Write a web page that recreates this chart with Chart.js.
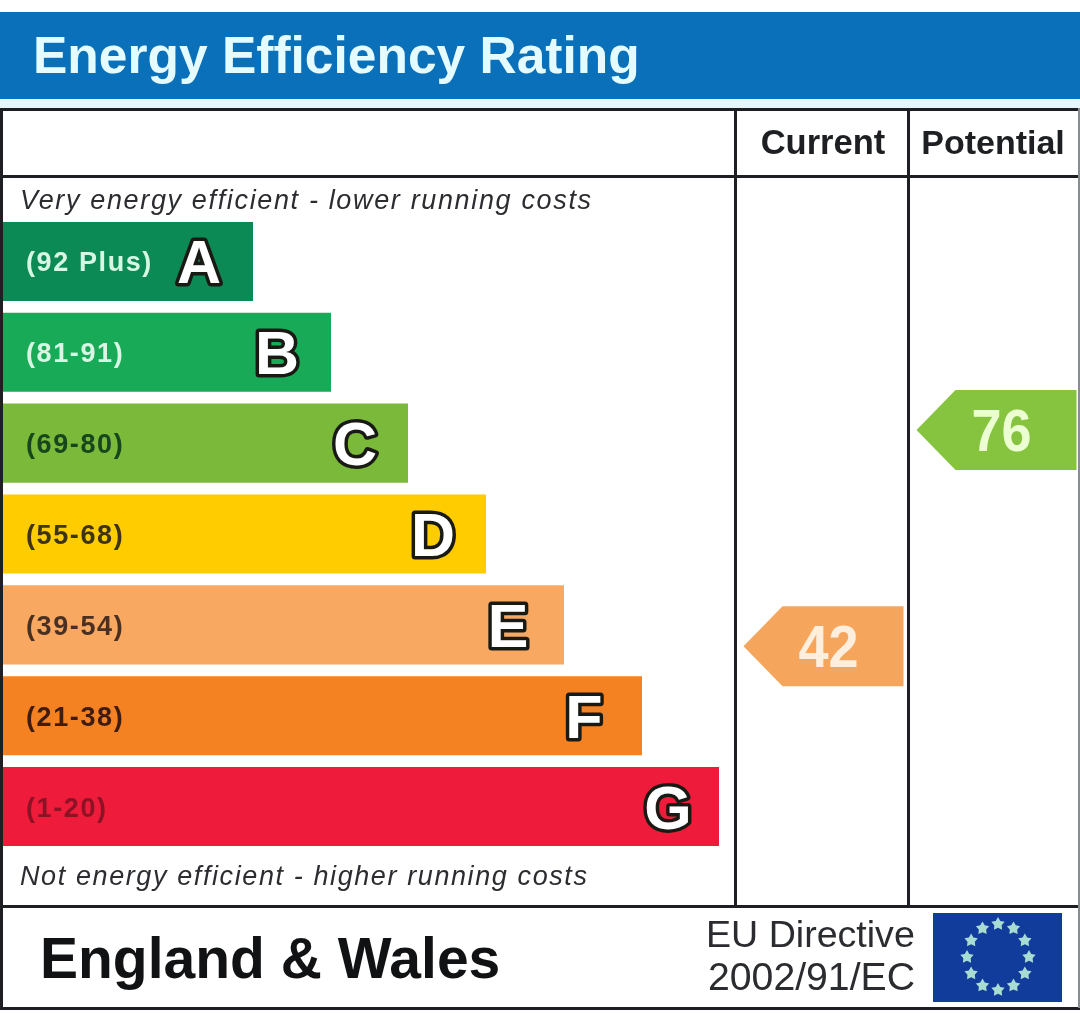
<!DOCTYPE html>
<html lang="en">
<head>
<meta charset="utf-8">
<title>Energy Efficiency Rating</title>
<style>
  html, body { margin: 0; padding: 0; background: #fff; }
  canvas { display: block; }
</style>
</head>
<body>
<canvas id="epcChart" width="1080" height="1030"></canvas>
<script src="https://cdn.jsdelivr.net/npm/chart.js@4/dist/chart.umd.min.js"></script>
<script>
// ── Data ─────────────────────────────────────────────────────
const bandLetters = ['A', 'B', 'C', 'D', 'E', 'F', 'G'];
const bandRanges  = ['(92 Plus)', '(81-91)', '(69-80)', '(55-68)', '(39-54)', '(21-38)', '(1-20)'];
const bandLengths = [250, 328, 405, 483, 561, 639, 716];
const bandColors  = ['#0c8a55', '#19aa58', '#7bb93b', '#ffcc00', '#f8a860', '#f58222', '#ee1c3a'];
const rangeColors = ['#d8f6e4', '#d8f6e4', '#17451c', '#3d3412', '#4a3022', '#3f1c10', '#8c1226'];
const letterInset = [54, 54, 53, 53, 56, 58, 51];
const currentScore   = [42];
const potentialScore = [76];

const FONT = '"Liberation Sans", Arial, sans-serif';
const INK  = '#1d1f22';

// ── Drawing helpers ──────────────────────────────────────────
function put(ctx, text, x, y, font, color, align = 'left', spacing = '0px') {
  ctx.font = font;
  ctx.fillStyle = color;
  ctx.textAlign = align;
  ctx.textBaseline = 'alphabetic';
  ctx.letterSpacing = spacing;
  ctx.fillText(text, x, y);
  ctx.letterSpacing = '0px';
}

function star(ctx, cx, cy, r) {
  ctx.beginPath();
  for (let i = 0; i < 10; i++) {
    const a = -Math.PI / 2 + i * Math.PI / 5;
    const d = i % 2 ? r * 0.55 : r;
    ctx.lineTo(cx + d * Math.cos(a), cy + d * Math.sin(a));
  }
  ctx.closePath();
  ctx.fill();
}

// ── Label frame: header, table rules, footer ─────────────────
const labelFrame = {
  id: 'labelFrame',
  beforeDatasetsDraw(chart) {
    const { ctx } = chart;
    ctx.save();
    ctx.fillStyle = '#e6f8fd';
    ctx.fillRect(0, 99, 1080, 9);
    ctx.fillStyle = '#0a70b9';
    ctx.fillRect(0, 12, 1080, 87);
    put(ctx, 'Energy Efficiency Rating', 33, 73, `bold 51.5px ${FONT}`, '#e4fbff');

    ctx.fillStyle = INK;
    ctx.fillRect(0, 108, 1080, 3);    // top rule
    ctx.fillRect(0, 175, 1080, 3);    // header rule
    ctx.fillRect(0, 905, 1080, 3);    // footer rule
    ctx.fillRect(0, 1007, 1080, 3);   // bottom rule
    ctx.fillRect(734, 108, 3, 798);   // Current column
    ctx.fillRect(907, 108, 3, 798);   // Potential column
    ctx.fillRect(0, 108, 3, 902);     // left edge
    ctx.fillStyle = '#8a8d90';
    ctx.fillRect(1078, 108, 2, 900);  // right edge

    put(ctx, 'Current', 823, 154, `bold 34.5px ${FONT}`, INK, 'center');
    put(ctx, 'Potential', 993, 154, `bold 34px ${FONT}`, INK, 'center');

    put(ctx, 'Very energy efficient - lower running costs', 20, 209, `italic 27px ${FONT}`, '#2b2d30', 'left', '1.65px');
    put(ctx, 'Not energy efficient - higher running costs', 20, 885, `italic 27px ${FONT}`, '#2b2d30', 'left', '1.6px');

    put(ctx, 'England & Wales', 40, 978, `bold 57px ${FONT}`, '#101214');
    put(ctx, 'EU Directive', 706, 947, `37.6px ${FONT}`, '#2a2c2f');
    put(ctx, '2002/91/EC', 708, 990, `39.2px ${FONT}`, '#2a2c2f');

    // EU flag
    ctx.fillStyle = '#123c9c';
    ctx.fillRect(933, 913, 129, 89);
    ctx.fillStyle = '#a8dcd2';
    for (let i = 0; i < 12; i++) {
      const a = i * Math.PI / 6;
      star(ctx, 998 + 31 * Math.sin(a), 957 - 33 * Math.cos(a), 7);
    }
    ctx.restore();
  },

  afterDatasetsDraw(chart) {
    const { ctx } = chart;
    const bars = chart.getDatasetMeta(0).data;
    ctx.save();

    // Range text and outlined letter inside each bar
    bars.forEach((bar, i) => {
      put(ctx, bandRanges[i], 26, bar.y + 10, `bold 27px ${FONT}`, rangeColors[i], 'left', '1.6px');

      const lx = bar.x - letterInset[i];
      ctx.font = `bold 61px ${FONT}`;
      ctx.textAlign = 'center';
      ctx.textBaseline = 'alphabetic';
      ctx.lineJoin = 'round';
      ctx.lineWidth = 7;
      ctx.strokeStyle = '#1a1a14';
      ctx.strokeText(bandLetters[i], lx, bar.y + 22);
      ctx.fillStyle = '#fff';
      ctx.fillText(bandLetters[i], lx, bar.y + 22);
    });

    // Score arrows, anchored on the scatter points
    [[1, currentScore, '#f6a65c', '#fdeedd'], [2, potentialScore, '#86c440', '#ecffd2']].forEach(([ds, scores, fill, text]) => {
      const p = chart.getDatasetMeta(ds).data[0];
      ctx.fillStyle = fill;
      ctx.beginPath();
      ctx.moveTo(p.x - 80, p.y);
      ctx.lineTo(p.x - 41, p.y - 40);
      ctx.lineTo(p.x + 80, p.y - 40);
      ctx.lineTo(p.x + 80, p.y + 40);
      ctx.lineTo(p.x - 41, p.y + 40);
      ctx.closePath();
      ctx.fill();

      ctx.save();
      ctx.translate(p.x + 5, p.y + 21);
      ctx.scale(0.9, 1);
      put(ctx, String(scores[0]), 0, 0, `bold 60px ${FONT}`, text, 'center');
      ctx.restore();
    });
    ctx.restore();
  }
};

// ── Chart ────────────────────────────────────────────────────
new Chart(document.getElementById('epcChart'), {
  type: 'bar',
  data: {
    labels: bandLetters,
    datasets: [
      {
        type: 'bar',
        label: 'Rating band',
        data: bandLengths,
        backgroundColor: bandColors,
        borderWidth: 0,
        grouped: false,
        barPercentage: 0.87,
        categoryPercentage: 1,
        xAxisID: 'x',
        yAxisID: 'y'
      },
      {
        type: 'scatter',
        label: 'Current',
        data: currentScore.map(v => ({ x: 820.5, y: v })),
        pointRadius: 0,
        xAxisID: 'x',
        yAxisID: 'score'
      },
      {
        type: 'scatter',
        label: 'Potential',
        data: potentialScore.map(v => ({ x: 993.5, y: v })),
        pointRadius: 0,
        xAxisID: 'x',
        yAxisID: 'score'
      }
    ]
  },
  options: {
    indexAxis: 'y',
    responsive: false,
    animation: false,
    layout: { padding: { left: 3, right: 0, top: 216, bottom: 178 } },
    plugins: { legend: { display: false }, tooltip: { enabled: false }, title: { display: false } },
    scales: {
      x:     { type: 'linear', axis: 'x', min: 0, max: 1077, display: false },
      y:     { type: 'category', axis: 'y', display: false },
      score: { type: 'linear', axis: 'y', min: 9.6, max: 109.7, offset: false, display: false }
    }
  },
  plugins: [labelFrame]
});
</script>
</body>
</html>
